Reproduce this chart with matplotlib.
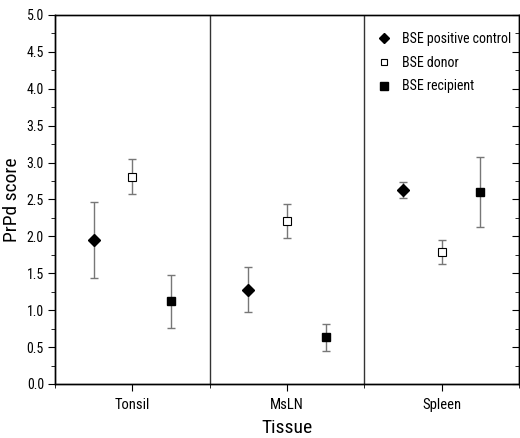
import matplotlib.pyplot as plt
import numpy as np

plt.rcParams['font.family'] = ['Roboto Condensed', 'Archivo Narrow', 'Liberation Sans', 'DejaVu Sans']

TISSUES = ["Tonsil", "MsLN", "Spleen"]
GROUPS = ["BSE positive control", "BSE donor", "BSE recipient"]

pos_mean = [1.95, 1.28, 2.63]
pos_err = [0.52, 0.31, 0.11]
donor_mean = [2.81, 2.21, 1.79]
donor_err = [0.24, 0.23, 0.16]
recip_mean = [1.12, 0.63, 2.60]
recip_err = [0.36, 0.18, 0.47]

x = np.arange(1, len(TISSUES) + 1)

fig = plt.figure(figsize=(5.2, 4.38), dpi=100)
ax = fig.add_axes([0.1058, 0.1233, 0.892, 0.8425])

styles = [
    (pos_mean, pos_err, -0.25, dict(marker='D', ms=6, mfc='black', mec='black')),
    (donor_mean, donor_err, 0.0, dict(marker='s', ms=5.5, mfc='white', mec='black', mew=0.8)),
    (recip_mean, recip_err, 0.25, dict(marker='s', ms=6, mfc='black', mec='black')),
]
for (mean, err, off, mk), name in zip(styles, GROUPS):
    ax.errorbar(x + off, mean, yerr=err, fmt='none', ecolor='#777777',
                elinewidth=1, capsize=3, capthick=1)
    ax.plot(x + off, mean, linestyle='none', label=name, **mk)

for b in [1.5, 2.5]:
    ax.axvline(b, color='#333333', lw=1)

ax.set_xlim(0.5, 3.5)
ax.set_ylim(0, 5)
ax.set_xticks(x)
ax.set_xticklabels(TISSUES)
ax.set_xticks([0.5, 1.5, 2.5, 3.5], minor=True)
ax.set_yticks(np.arange(0, 5.01, 0.5))
ax.set_yticks(np.arange(0.25, 5, 0.5), minor=True)
ax.yaxis.set_major_formatter(plt.FormatStrFormatter('%.1f'))

ax.tick_params(axis='y', which='major', direction='out', length=5, labelsize=10, pad=3)
ax.tick_params(axis='y', which='minor', direction='out', length=3)
ax.tick_params(axis='x', which='major', direction='out', length=5, labelsize=10.5, pad=5)
ax.tick_params(axis='x', which='minor', direction='out', length=3)

# inward ticks on the right spine
ax2 = ax.twinx()
ax2.set_ylim(0, 5)
ax2.set_yticks(np.arange(0, 5.01, 0.5))
ax2.set_yticks(np.arange(0.25, 5, 0.5), minor=True)
ax2.tick_params(axis='y', which='major', direction='in', length=5, labelright=False)
ax2.tick_params(axis='y', which='minor', direction='in', length=3)

for a in (ax, ax2):
    for s in a.spines.values():
        s.set_linewidth(1)
ax.spines['top'].set_color('#333333')

ax.set_ylabel("PrPd score", fontsize=14, labelpad=4)
ax.set_xlabel("Tissue", fontsize=14, labelpad=5)

ax.legend(loc='upper left', frameon=False, fontsize=10,
          handletextpad=0.65, labelspacing=0.7, borderaxespad=0, borderpad=0,
          handlelength=1.2, markerscale=0.9,
          bbox_to_anchor=((376 - 55) / 464, (384 - 32) / 369))

fig.savefig("out.png", dpi=100)
